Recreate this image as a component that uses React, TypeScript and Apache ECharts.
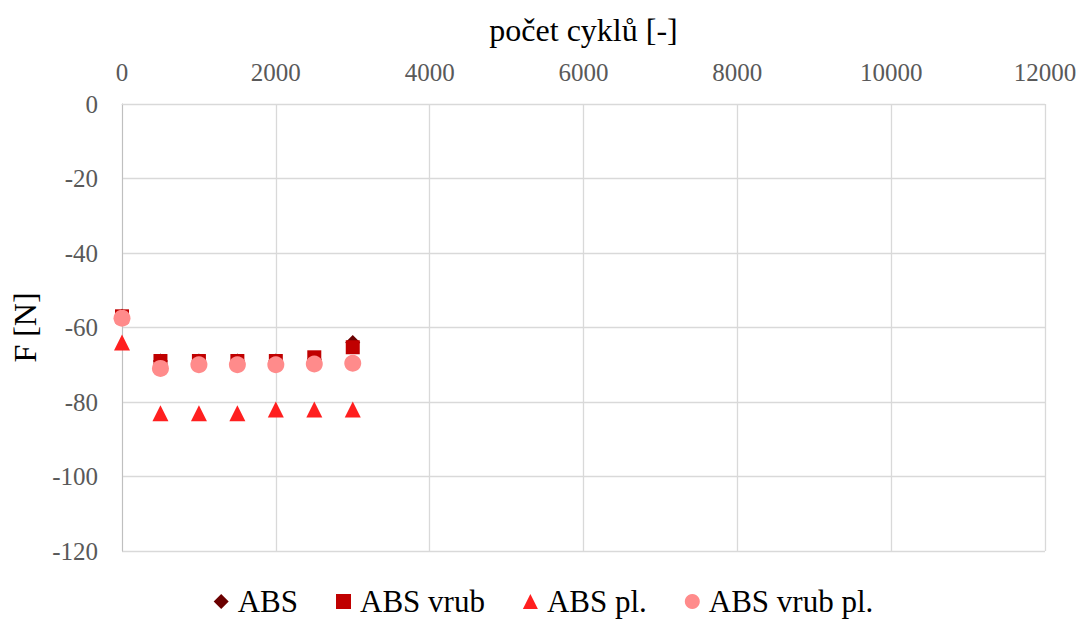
import React, { useEffect, useRef } from "react";
import * as echarts from "echarts";

const cycles = [0, 500, 1000, 1500, 2000, 2500, 3000];
const abs = [-57, -69, -69, -69, -69, -68.5, -64];
const absVrub = [-57, -69, -69, -69, -69, -68, -65.3];
const absPl = [-64, -83, -83, -83, -82, -82, -82];
const absVrubPl = [-57.5, -71, -70, -70, -70, -69.8, -69.6];

const xTicks = { min: 0, max: 12000, interval: 2000 };
const yTicks = { min: -120, max: 0, interval: 20 };

const font = "Liberation Serif";

export default function App() {
  const ref = useRef<HTMLDivElement>(null);
  useEffect(() => {
    if (!ref.current) return;
    const chart = echarts.init(ref.current, undefined, { renderer: "svg" });
    const mk = (vals: number[]) => cycles.map((c, i) => [c, vals[i]]);
    chart.setOption({
      animation: false,
      textStyle: { fontFamily: font },
      grid: { left: 122, right: 42, top: 104, bottom: 72 },
      xAxis: {
        type: "value",
        position: "top",
        ...xTicks,
        name: "počet cyklů [-]",
        nameLocation: "middle",
        nameGap: 58,
        nameTextStyle: { fontSize: 32, color: "#000", fontFamily: font },
        axisLabel: { fontSize: 25, color: "#595959", fontFamily: font, margin: 19, formatter: (v: number) => String(v) },
        axisLine: { show: true, lineStyle: { color: "#d9d9d9", width: 1 } },
        axisTick: { show: false },
        splitLine: { show: true, lineStyle: { color: "#d9d9d9", width: 1.3 } },
      },
      yAxis: {
        type: "value",
        ...yTicks,
        name: "F [N]",
        nameLocation: "middle",
        nameRotate: 90,
        nameGap: 78,
        nameTextStyle: { fontSize: 32, color: "#000", fontFamily: font },
        axisLabel: { fontSize: 25, color: "#595959", fontFamily: font, margin: 24, formatter: (v: number) => String(v) },
        axisLine: { show: true, lineStyle: { color: "#bfbfbf", width: 1 } },
        axisTick: { show: false },
        splitLine: { show: true, lineStyle: { color: "#d9d9d9", width: 1.3 } },
      },
      legend: {
        bottom: 1,
        left: "center",
        itemGap: 38,
        itemWidth: 15,
        itemHeight: 15,
        textStyle: { fontSize: 31, color: "#000", fontFamily: font, padding: [0, 0, 0, 4] },
        data: ["ABS", "ABS vrub", "ABS pl.", "ABS vrub pl."],
      },
      series: [
        { name: "ABS", type: "scatter", symbol: "diamond", symbolSize: 15, itemStyle: { color: "#6b0000", opacity: 1 }, data: mk(abs) },
        { name: "ABS vrub", type: "scatter", symbol: "rect", symbolSize: 14, itemStyle: { color: "#c00000", opacity: 1 }, data: mk(absVrub) },
        { name: "ABS pl.", type: "scatter", symbol: "triangle", symbolSize: 16, itemStyle: { color: "#ff1f1f", opacity: 1 }, data: mk(absPl) },
        { name: "ABS vrub pl.", type: "scatter", symbol: "circle", symbolSize: 17, itemStyle: { color: "#ff8b8b", opacity: 1 }, data: mk(absVrubPl) },
      ],
    });
    return () => chart.dispose();
  }, []);
  return <div ref={ref} style={{ width: 1087, height: 623, position: "absolute", left: 0, top: 0 }} />;
}
